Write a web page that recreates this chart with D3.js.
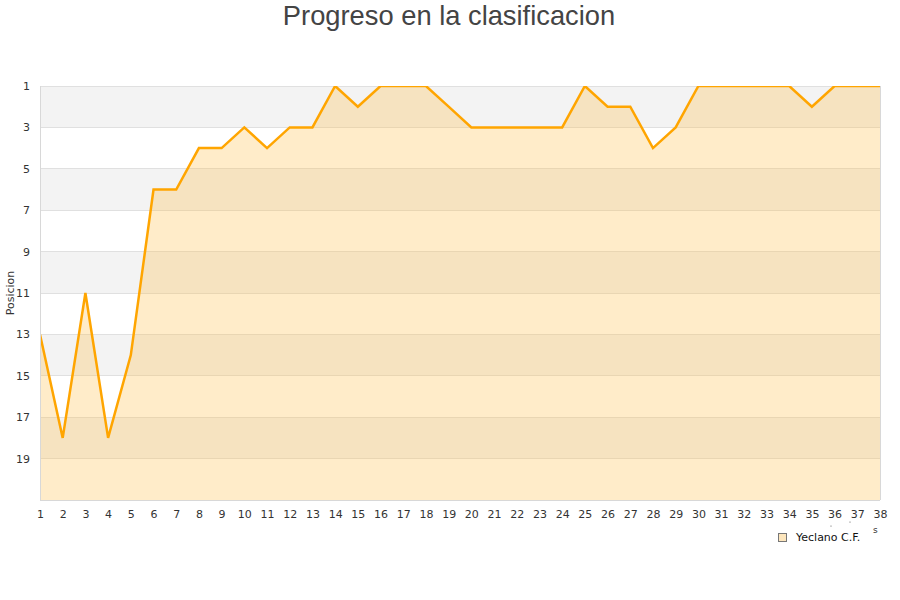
<!DOCTYPE html>
<html><head><meta charset="utf-8">
<script src="https://cdn.jsdelivr.net/npm/d3@7"></script>
<style>body{margin:0;background:#fff}svg{display:block}</style>
</head><body>
<svg id="c" width="900" height="600"></svg>
<script>
const jornadas = d3.range(1, 39);
const posiciones = [13,18,11,18,14,6,6,4,4,3,4,3,3,1,2,1,1,1,2,3,3,3,3,3,1,2,2,4,3,1,1,1,1,1,2,1,1,1];
const yTicks = [1,3,5,7,9,11,13,15,17,19];
const bands = [[1,3],[5,7],[9,11],[13,15],[17,19]];
const title = "Progreso en la clasificacion";
const yLabel = "Posicion";
const teamName = "Yeclano C.F.";

const svg = d3.select("#c");
const L = 40, R = 880, T = 86, B = 500;
const x = d3.scaleLinear().domain([1, 38]).range([L, R]);
const y = d3.scaleLinear().domain([1, 21]).range([T, B]);

svg.append("text").attr("x", 449).attr("y", 25).attr("text-anchor", "middle")
  .attr("font-family", "Liberation Sans, Arial, sans-serif").attr("font-size", 27.3)
  .attr("fill", "#444").text(title);

svg.append("defs").append("clipPath").attr("id", "clip")
  .append("rect").attr("x", L).attr("y", T).attr("width", R - L).attr("height", B - T);

// bands
svg.append("g").selectAll("rect").data(bands).join("rect")
  .attr("x", L).attr("width", R - L)
  .attr("y", d => y(d[0])).attr("height", d => y(d[1]) - y(d[0]))
  .attr("fill", "#f3f3f3");

// grid
svg.append("g").selectAll("line").data(yTicks.concat([21])).join("line")
  .attr("x1", L).attr("x2", R).attr("y1", d => y(d)).attr("y2", d => y(d))
  .attr("stroke", "#e0e0e0").attr("stroke-width", 1).attr("shape-rendering", "crispEdges");

const g = svg.append("g").attr("clip-path", "url(#clip)");
const area = d3.area().x((d, i) => x(jornadas[i])).y0(B).y1(d => y(d));
g.append("path").datum(posiciones).attr("d", area)
  .attr("fill", "#ffc14d").attr("fill-opacity", 0.3);
const line = d3.line().x((d, i) => x(jornadas[i])).y(d => y(d));
g.append("path").datum(posiciones).attr("d", line)
  .attr("fill", "none").attr("stroke", "#ffa500").attr("stroke-width", 2.5)
  .attr("stroke-linejoin", "miter");

// borders
svg.append("line").attr("x1", L).attr("x2", L).attr("y1", T).attr("y2", B)
  .attr("stroke", "#d8d8d8").attr("shape-rendering", "crispEdges");
svg.append("line").attr("x1", R).attr("x2", R).attr("y1", T).attr("y2", B)
  .attr("stroke", "#d8d8d8").attr("shape-rendering", "crispEdges");
svg.append("line").attr("x1", L).attr("x2", R).attr("y1", B).attr("y2", B)
  .attr("stroke", "#d8d8d8").attr("shape-rendering", "crispEdges");

// y axis labels
const yAxis = d3.axisLeft(y).tickValues(yTicks).tickSize(0).tickPadding(10);
const ya = svg.append("g").attr("transform", `translate(${L},0)`).call(yAxis);
ya.select(".domain").remove();
ya.selectAll("text").attr("font-family", "DejaVu Sans, sans-serif").attr("font-size", 11).attr("fill", "#333");

// x axis labels
const xAxis = d3.axisBottom(x).tickValues(jornadas).tickSize(0).tickPadding(10).tickFormat(d3.format("d"));
const xa = svg.append("g").attr("transform", `translate(0,${B})`).call(xAxis);
xa.select(".domain").remove();
xa.selectAll("text").attr("font-family", "DejaVu Sans, sans-serif").attr("font-size", 11).attr("fill", "#333");

svg.append("text").attr("transform", "translate(14,293) rotate(-90)").attr("text-anchor", "middle")
  .attr("font-family", "DejaVu Sans, sans-serif").attr("font-size", 11).attr("fill", "#333").text(yLabel);

// clipped remnant of x label
svg.append("text").attr("x", 873).attr("y", 533).attr("font-family", "DejaVu Sans, sans-serif")
  .attr("font-size", 9).attr("fill", "#333").text("s");
svg.append("circle").attr("cx", 831).attr("cy", 526).attr("r", 0.6).attr("fill", "#555");
svg.append("circle").attr("cx", 850).attr("cy", 522).attr("r", 0.6).attr("fill", "#555");

// legend
svg.append("rect").attr("x", 778.5).attr("y", 533.5).attr("width", 8).attr("height", 8)
  .attr("fill", "#fde6bd").attr("stroke", "#777").attr("stroke-width", 1);
svg.append("text").attr("x", 796).attr("y", 541).attr("font-family", "DejaVu Sans, sans-serif")
  .attr("font-size", 11).attr("fill", "#111").text(teamName);
</script>
</body></html>
